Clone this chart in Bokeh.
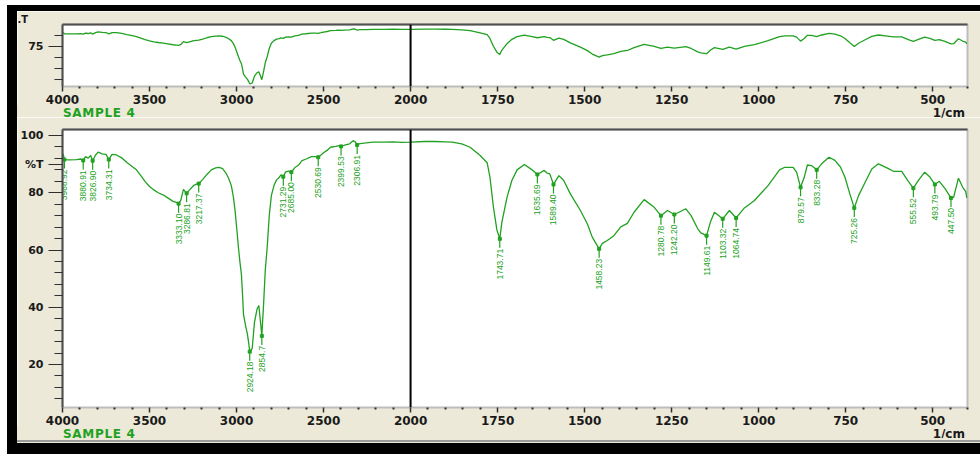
import numpy as np
from bokeh.plotting import figure
from bokeh.models import Range1d, FixedTicker, Span, LinearAxis, ColumnDataSource, Div
from bokeh.layouts import column, row
from bokeh.core.properties import value
from bokeh.embed import file_html
from bokeh.resources import INLINE

# ---------------- data ----------------
wavenumber = [3996, 3988.92, 3960, 3920, 3895, 3880.91, 3868, 3852, 3838, 3826.90, 3810, 3795, 3772, 3750,
              3734.31, 3715, 3690, 3660, 3630, 3600, 3575, 3550, 3525, 3500, 3475, 3450, 3420, 3395, 3365,
              3345, 3333.10, 3320, 3305, 3286.81, 3270, 3245, 3230, 3217.37, 3195, 3170, 3145, 3120, 3100,
              3080, 3060, 3045, 3030, 3018, 3008, 2998, 2990, 2980, 2972, 2966, 2960, 2948, 2938, 2930,
              2924.18, 2910, 2897, 2882, 2872, 2863, 2854.7, 2844, 2835, 2824, 2812, 2800, 2785, 2770, 2755,
              2745, 2731.29, 2718, 2702, 2685.00, 2665, 2645, 2624, 2600, 2570, 2545, 2530.69, 2515, 2500,
              2480, 2460, 2430, 2410, 2399.53, 2380, 2350, 2330, 2318, 2306.91, 2290, 2255, 2218, 2150, 2100,
              2050, 2000, 1960, 1930, 1900, 1880, 1853, 1829, 1800, 1780, 1772, 1762, 1752, 1743.71, 1738,
              1723, 1709, 1694, 1673, 1651, 1635.69, 1616, 1608, 1600, 1589.40, 1574, 1560, 1541, 1512, 1492,
              1478, 1458.23, 1449, 1435, 1416, 1396, 1377, 1358, 1329, 1300, 1280.78, 1262, 1242.20, 1209,
              1194, 1175, 1166, 1149.61, 1138, 1127, 1103.32, 1084, 1064.74, 1041, 1012, 973, 940, 925, 901,
              891, 879.57, 869, 860, 848, 833.28, 819, 798, 781, 765, 752, 738, 725.26, 713, 694, 675, 656,
              630, 613, 589, 570, 555.52, 541, 523, 508, 493.79, 481, 465, 447.50, 440, 426, 414, 405, 402]
transmittance = [93.6, 91.6, 91.5, 91.6, 91.8, 91.3, 92.6, 92.1, 93.0, 91.2, 93.2, 94.2, 93.6, 93.4,
                 91.6, 93.4, 93.2, 92.2, 90.6, 89.2, 88.0, 86.0, 83.9, 82.2, 81.0, 80.0, 79.2, 78.2, 77.0,
                 76.6, 76.2, 77.4, 81.2, 79.8, 81.0, 82.6, 83.0, 83.2, 84.6, 86.4, 88.0, 88.7, 88.9,
                 88.4, 86.8, 85.0, 82.5, 78.5, 73.5, 67.0, 61.5, 55.5, 51.5, 45.0, 37.5, 33.5, 30.8, 27.5,
                 24.5, 25.6, 34.7, 39.4, 40.6, 35.3, 30.0, 41.7, 52.8, 60.9, 72.0, 79.0, 82.5, 84.5, 85.3,
                 86.3, 85.6, 87.3, 87.6, 87.2, 88.8, 89.6, 91.2, 91.8, 92.6, 92.6, 92.4, 93.2, 94.0,
                 94.8, 95.9, 96.2, 96.5, 96.2, 96.6, 97.1, 98.2, 97.8, 96.7, 97.2, 97.4, 97.7, 97.7, 97.8,
                 97.6, 97.7, 97.9, 97.9, 97.8, 97.7, 97.1, 95.9, 93.0, 90.5, 85.5, 75.0, 67.0, 63.9, 69.5,
                 78.4, 84.3, 88.0, 89.9, 88.0, 86.4, 87.8, 86.9, 86.6, 82.9, 86.0, 84.3, 79.6, 73.8, 69.1,
                 64.5, 60.4, 62.3, 63.3, 65.0, 68.1, 69.3, 73.2, 77.6, 74.9, 72.0, 73.8, 72.4, 74.4,
                 72.0, 67.4, 66.0, 65.0, 70.0, 73.2, 70.9, 73.8, 71.2, 74.7, 77.3, 82.5, 88.0, 88.9, 88.9,
                 87.2, 81.9, 85.4, 89.7, 89.5, 88.0, 90.1, 92.4, 91.3, 89.0, 85.4, 79.6, 74.7, 79.0, 83.7, 88.3, 90.1,
                 88.6, 87.5, 87.5, 84.0, 81.6, 84.3, 87.2, 85.5, 82.9, 84.0, 81.5, 78.2, 78.4, 85.1, 82.0, 80.4, 78.2]

peak_wavenumber = [3988.92, 3880.91, 3826.90, 3734.31, 3333.10, 3286.81, 3217.37, 2924.18, 2854.7,
                   2731.29, 2685.00, 2530.69, 2399.53, 2306.91, 1743.71, 1635.69, 1589.40, 1458.23,
                   1280.78, 1242.20, 1149.61, 1103.32, 1064.74, 879.57, 833.28, 725.26, 555.52,
                   493.79, 447.50]
peak_transmittance = [91.6, 91.3, 91.2, 91.6, 76.2, 79.8, 83.2, 24.5, 30.0,
                      85.6, 87.2, 92.4, 96.2, 96.7, 63.9, 86.4, 82.9, 60.4,
                      72.0, 72.4, 65.0, 70.9, 71.2, 81.9, 88.0, 74.7, 81.6,
                      82.9, 78.2]
peak_text = ["3988.92", "3880.91", "3826.90", "3734.31", "3333.10", "3286.81", "3217.37", "2924.18", "2854.7",
             "2731.29", "2685.00", "2530.69", "2399.53", "2306.91", "1743.71", "1635.69", "1589.40", "1458.23",
             "1280.78", "1242.20", "1149.61", "1103.32", "1064.74", "879.57", "833.28", "725.26", "555.52",
             "493.79", "447.50"]

x_tick_values = [4000, 3500, 3000, 2500, 2000, 1750, 1500, 1250, 1000, 750, 500]
x_tick_labels = ["4000", "3500", "3000", "2500", "2000", "1750", "1500", "1250", "1000", "750", "500"]
main_y_ticks = [20, 40, 60, 80, 90, 100]
main_y_labels = ["20", "40", "60", "80", "%T", "100"]
overview_y_ticks = [75]
overview_y_labels = ["75"]
sample_name = "SAMPLE 4"
x_unit = "1/cm"
overview_title = ".T"
break_wavenumber = 2000

# ---------------- style ----------------
BEIGE = "#ECE9D8"
GREEN = "#21A121"
DARK = "#505050"
LIGHT = "#BDBDBD"
FONT = "DejaVu Sans"


def u(w):
    """piecewise wavenumber axis: 4000-2000 compressed, 2000-400 expanded"""
    w = np.asarray(w, dtype=float)
    return np.where(w >= break_wavenumber, (4000.0 - w) / 2000.0, 1.0 + (2000.0 - w) / 1000.0)


X0, X1 = 0.0, 2.6            # 4000 .. 400 1/cm
OV_Y0, OV_Y1 = 20.9, 104.2   # overview panel %T range
MN_Y0, MN_Y1 = 4.98, 102.1   # main panel %T range
MN_PPU = (407 - 129) / (MN_Y1 - MN_Y0)   # px per %T in the main frame

minor_w = [w for w in list(range(3900, 2000, -100)) + list(range(1950, 399, -50)) if w not in x_tick_values]


def style_axes(p, yticks, ylabels, yminor):
    xt = [float(v) for v in u(x_tick_values)]
    p.xaxis.ticker = FixedTicker(ticks=xt, minor_ticks=[float(v) for v in u(minor_w)])
    p.xaxis.major_label_overrides = {t: l for t, l in zip(xt, x_tick_labels)}
    p.xaxis.axis_line_color = None
    p.xaxis.major_tick_in = 0
    p.xaxis.major_tick_out = 5
    p.xaxis.minor_tick_in = 0
    p.xaxis.minor_tick_out = 2
    p.xaxis.major_tick_line_color = "#303030"
    p.xaxis.major_tick_line_width = 1.5
    p.xaxis.minor_tick_line_color = "#303030"
    p.xaxis.minor_tick_line_width = 2
    p.xaxis.major_label_standoff = 3
    p.xaxis.major_label_text_font = FONT
    p.xaxis.major_label_text_font_size = "12px"
    p.xaxis.major_label_text_font_style = "bold"
    p.xaxis.major_label_text_color = "#1a1a1a"

    p.yaxis.ticker = FixedTicker(ticks=yticks, minor_ticks=yminor)
    p.yaxis.major_label_overrides = {t: l for t, l in zip(yticks, ylabels)}
    p.yaxis.axis_line_color = DARK
    p.yaxis.axis_line_width = 2
    p.yaxis.major_tick_in = 0
    p.yaxis.major_tick_out = 14
    p.yaxis.minor_tick_in = 0
    p.yaxis.minor_tick_out = 8
    p.yaxis.major_tick_line_color = "#303030"
    p.yaxis.minor_tick_line_color = "#303030"
    p.yaxis.major_label_standoff = 5
    p.yaxis.major_label_text_font = FONT
    p.yaxis.major_label_text_font_size = "11px"
    p.yaxis.major_label_text_font_style = "bold"
    p.yaxis.major_label_text_color = "#1a1a1a"

    top_axis = LinearAxis(ticker=FixedTicker(ticks=[]), major_tick_line_color=None,
                          minor_tick_line_color=None, major_label_standoff=0,
                          axis_line_color=DARK, axis_line_width=2)
    p.add_layout(top_axis, "above")

    p.grid.visible = False
    p.outline_line_color = LIGHT
    p.outline_line_width = 2
    p.add_layout(Span(location=float(u(break_wavenumber)), dimension="height",
                      line_color="black", line_width=2))


def make_fig(height, top, bottom, yr):
    return figure(width=963, height=height, x_range=Range1d(X0, X1), y_range=Range1d(*yr),
                  output_backend="svg", toolbar_location=None,
                  min_border_left=45, min_border_right=13, min_border_top=top, min_border_bottom=bottom,
                  background_fill_color="white", border_fill_color=BEIGE)


def footer():
    html = ('<div style="display:flex;justify-content:space-between;align-items:center;'
            'width:963px;height:12px;box-sizing:border-box;padding:0 15px 0 46px;'
            'font-family:\'DejaVu Sans\';font-size:12px;font-weight:bold;line-height:12px;">'
            '<span style="color:%s;letter-spacing:0.7px">%s</span>'
            '<span style="color:#1a1a1a">%s</span></div>'
            % (GREEN, sample_name, x_unit))
    return Div(text=html, width=963, height=12, margin=(-3, 0, 0, 0), styles={"background-color": BEIGE})


def block(w, h, color):
    return Div(text="", width=w, height=h, margin=(0, 0, 0, 0), styles={"background-color": color})


xu = u(wavenumber)

# ---------------- overview panel ----------------
ov = make_fig(97, 12, 22, (OV_Y0, OV_Y1))
style_axes(ov, overview_y_ticks, overview_y_labels, [90, 60, 45, 30])
ov.line(xu, transmittance, line_color=GREEN, line_width=1.3)
ov.title.text = overview_title
ov.title.align = "left"
ov.title.offset = -45
ov.title.standoff = 0
ov.title.text_font = FONT
ov.title.text_font_size = "10px"
ov.title.text_font_style = "bold"
ov.title.text_color = "#1a1a1a"

# ---------------- main panel ----------------
mn = make_fig(312, 12, 22, (MN_Y0, MN_Y1))
style_axes(mn, main_y_ticks, main_y_labels, [v for v in range(8, 101, 4) if v not in main_y_ticks])
mn.line(xu, transmittance, line_color=GREEN, line_width=1.3)

pk_u = u(peak_wavenumber)
pk_t = np.array(peak_transmittance)
src = ColumnDataSource(dict(x=pk_u, y=pk_t, y0=pk_t - 1.0 / MN_PPU, y1=pk_t - 9.0 / MN_PPU,
                            ty=pk_t - 10.0 / MN_PPU, text=peak_text))
mn.segment(x0="x", y0="y0", x1="x", y1="y1", source=src, line_color=GREEN, line_width=1.2)
mn.scatter(x="x", y="y", source=src, marker="square", size=3, color=GREEN)
mn.text(x="x", y="ty", text="text", source=src, angle=np.pi / 2, text_align="right",
        text_baseline="middle", text_color=GREEN, text_font=value("Liberation Sans"),
        text_font_size=value("8.5px"))

# ---------------- window frame ----------------
panel = column(ov, footer(), mn, footer(),
               block(963, 2, BEIGE), block(963, 2, "#9a9a9a"), block(963, 1, BEIGE), spacing=0)
framed = column(block(973, 6, "black"),
                row(block(10, 432, "black"), panel, spacing=0),
                block(973, 11, "black"), spacing=0)
layout = column(block(980, 5, "white"),
                row(block(7, 449, "white"), framed, spacing=0),
                spacing=0)

open("out.html", "w").write(file_html(layout, INLINE))
